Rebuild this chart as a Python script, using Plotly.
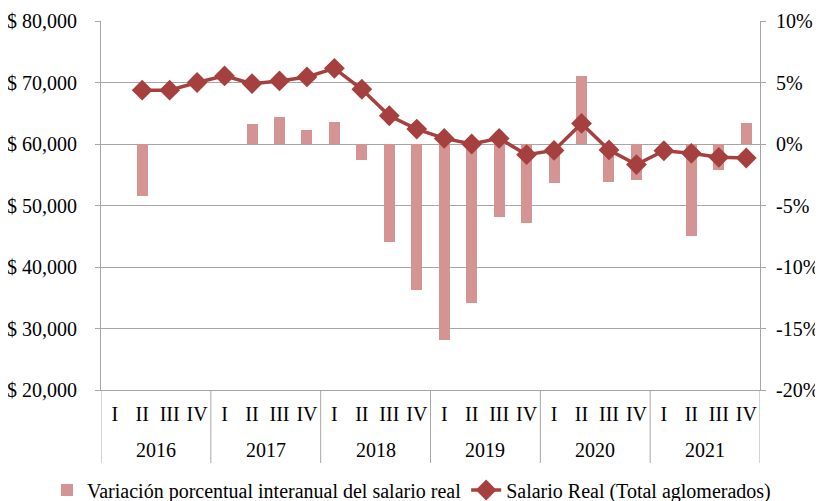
import plotly.graph_objects as go

years = ["2016", "2017", "2018", "2019", "2020", "2021"]
quarters = ["I", "II", "III", "IV"]

salario_real = [None, 68750, 68750, 70000,
                71070, 69820, 70260, 70900,
                72300, 68900, 64590, 62430,
                60910, 60000, 60910, 58270,
                58950, 63340, 59030, 56650,
                58900, 58480, 57830, 57720]

variacion = [None, -4.2, None, None,
             None, 1.6, 2.2, 1.1,
             1.75, -1.3, -8.0, -11.85,
             -15.95, -12.9, -5.9, -6.45,
             -3.15, 5.5, -3.05, -2.95,
             None, -7.5, -2.1, 1.7]

left_ticks = [20000, 30000, 40000, 50000, 60000, 70000, 80000]
left_ticktext = ["$ 20,000", "$ 30,000", "$ 40,000", "$ 50,000", "$ 60,000", "$ 70,000", "$ 80,000"]
right_ticks = [-20, -15, -10, -5, 0, 5, 10]
right_ticktext = ["-20%", "-15%", "-10%", "-5%", "0%", "5%", "10%"]

n = len(years) * len(quarters)
xpos = list(range(n))
x_q = [q for y in years for q in quarters]

FONT = "Liberation Serif, Times New Roman, serif"
FS = 20
LINE_C = "#A5403F"
BAR_C = "#D49493"
GRID_C = "#A6A6A6"

# figure is 8px smaller than the window to allow for the default page body margin
W, H = 815, 493
L, R, T, B = 93, 63, 13, 111
PH = H - T - B
PW = W - L - R

fig = go.Figure()
fig.add_trace(go.Bar(
    x=xpos, y=variacion, yaxis="y",
    name="Variación porcentual interanual del salario real",
    marker=dict(color=BAR_C, line=dict(width=0)), width=0.4,
))
fig.add_trace(go.Scatter(
    x=xpos, y=salario_real, yaxis="y2",
    name="Salario Real (Total aglomerados)",
    mode="lines+markers",
    line=dict(color=LINE_C, width=3.5),
    marker=dict(symbol="diamond", size=16, color=LINE_C),
))

# year labels and group dividers on the category axis
for i, yr in enumerate(years):
    fig.add_annotation(x=i * 4 + 1.5, y=-60 / PH, xref="x", yref="paper",
                       text=yr, showarrow=False, yanchor="middle",
                       font=dict(size=FS, family=FONT, color="black"))
for k in range(len(years) + 1):
    fig.add_shape(type="line", xref="x", yref="paper",
                  x0=k * 4 - 0.5, x1=k * 4 - 0.5, y0=0, y1=-73 / PH,
                  line=dict(color=GRID_C, width=1))

fig.update_layout(
    width=W, height=H,
    margin=dict(l=L, r=R, t=T, b=B, autoexpand=False),
    paper_bgcolor="white", plot_bgcolor="white",
    font=dict(family=FONT, size=FS, color="black"),
    showlegend=True,
    legend=dict(orientation="h", x=-54 / PW, xanchor="left",
                y=-100 / PH, yanchor="middle",
                font=dict(size=FS, family=FONT), itemwidth=30, traceorder="normal",
                tracegroupgap=0, bgcolor="rgba(0,0,0,0)"),
    bargap=0,
    xaxis=dict(
        range=[-0.5, n - 0.5],
        tickvals=xpos, ticktext=x_q, tickangle=0,
        showline=True, linecolor=GRID_C, linewidth=1,
        ticks="", ticklabelstandoff=6, tickfont=dict(size=FS, family=FONT),
        showgrid=False, zeroline=False, automargin=False,
    ),
    yaxis=dict(
        side="right", range=[-20, 10],
        tickvals=right_ticks, ticktext=right_ticktext,
        showgrid=True, gridcolor=GRID_C, gridwidth=1,
        showline=True, linecolor=GRID_C, linewidth=1,
        ticks="outside", ticklen=5, tickcolor=GRID_C, ticklabelstandoff=6,
        zeroline=False, tickfont=dict(size=FS, family=FONT), automargin=False,
    ),
    yaxis2=dict(
        overlaying="y", side="left", range=[20000, 80000],
        tickvals=left_ticks, ticktext=left_ticktext,
        showgrid=False,
        showline=True, linecolor=GRID_C, linewidth=1,
        ticks="outside", ticklen=5, tickcolor=GRID_C, ticklabelstandoff=14,
        zeroline=False, tickfont=dict(size=FS, family=FONT), automargin=False,
    ),
)

fig.write_html("out.html")
